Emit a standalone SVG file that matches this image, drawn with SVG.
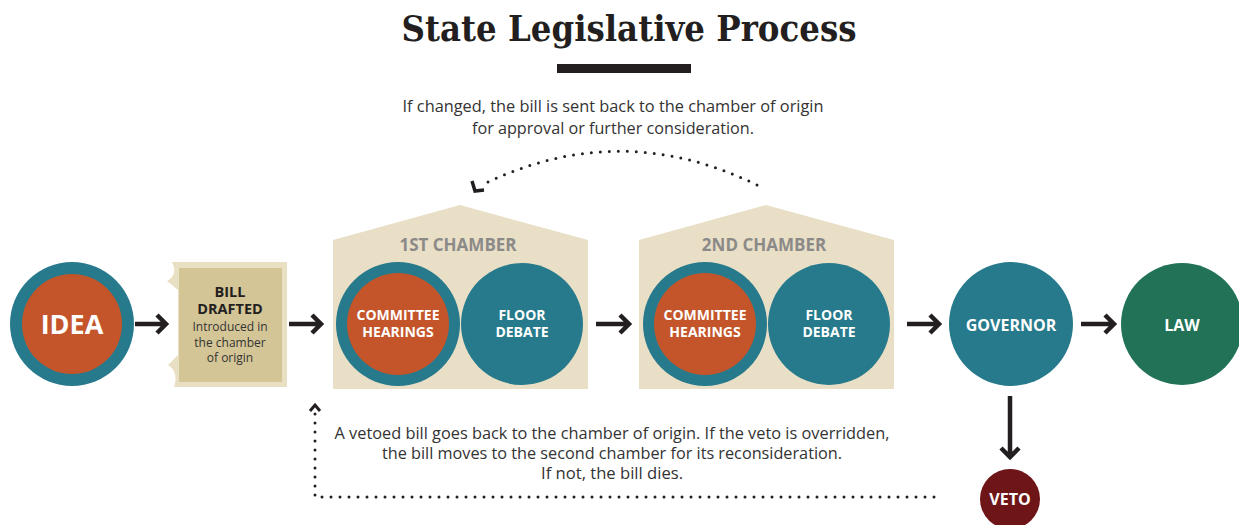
<svg xmlns="http://www.w3.org/2000/svg" width="1239" height="525" viewBox="0 0 1239 525">
<style>
.teal{fill:#267a8c}
.orange{fill:#c4552a}
.house{fill:#e8dfc6}
.wt{font-family:"Open Sans","Liberation Sans",sans-serif;font-weight:bold;fill:#ffffff;text-anchor:middle}
.note{font-family:"Open Sans","Liberation Sans",sans-serif;font-size:16px;fill:#333333;text-anchor:middle}
.ch{font-family:"Open Sans","Liberation Sans",sans-serif;font-weight:bold;font-size:17px;fill:#8c8a88;text-anchor:middle}
.bd{font-family:"Open Sans","Liberation Sans",sans-serif;font-weight:bold;font-size:14.5px;fill:#231f20;text-anchor:middle}
.bs{font-family:"Open Sans","Liberation Sans",sans-serif;font-size:12px;fill:#333333;text-anchor:middle}
.arr{fill:none;stroke:#231f20;stroke-width:4.5;stroke-linejoin:miter}
.dot{fill:none;stroke:#231f20;stroke-width:3;stroke-linecap:round;stroke-dasharray:0 9}
</style>
<rect width="1239" height="525" fill="#ffffff"/>
<g id="title">
<text x="629" y="41" font-family="'DejaVu Serif','Liberation Serif',serif" font-weight="bold" font-size="35" fill="#231f20" text-anchor="middle" textLength="455" lengthAdjust="spacingAndGlyphs">State Legislative Process</text>
<rect x="557" y="64" width="134" height="9" fill="#231f20"/>
</g>
<g id="note-top">
<text class="note" x="613" y="112" textLength="421" lengthAdjust="spacingAndGlyphs">If changed, the bill is sent back to the chamber of origin</text>
<text class="note" x="613" y="134" textLength="282" lengthAdjust="spacingAndGlyphs">for approval or further consideration.</text>
</g>
<g id="note-bottom">
<text class="note" x="612" y="439" textLength="555" lengthAdjust="spacingAndGlyphs">A vetoed bill goes back to the chamber of origin. If the veto is overridden,</text>
<text class="note" x="612" y="459" textLength="460" lengthAdjust="spacingAndGlyphs">the bill moves to the second chamber for its reconsideration.</text>
<text class="note" x="612" y="479" textLength="142" lengthAdjust="spacingAndGlyphs">If not, the bill dies.</text>
</g>
<g id="idea">
<circle class="teal" cx="72" cy="324" r="62"/>
<circle class="orange" cx="72" cy="324" r="50"/>
<text class="wt" x="72" y="334" font-size="27">IDEA</text>
</g>
<g id="bill-drafted">
<path d="M172,262 H287 V387 H174 C177,378 176,370 168,365 L178,355 V290 L167,281 C175,276 176,270 172,262 Z" fill="#e9dfc3"/>
<rect x="179" y="268" width="103" height="114" fill="#d4c596"/>
<text class="bd" x="230" y="297">BILL</text>
<text class="bd" x="230" y="314">DRAFTED</text>
<text class="bs" x="230" y="331">Introduced in</text>
<text class="bs" x="230" y="347">the chamber</text>
<text class="bs" x="230" y="362">of origin</text>
</g>
<g id="chamber1">
<path class="house" d="M333,240 L460,205 L588,240 V389 H333 Z"/>
<text class="ch" x="458" y="251">1ST CHAMBER</text>
<g id="committee1">
<circle class="teal" cx="398" cy="324" r="62"/>
<circle class="orange" cx="398" cy="324" r="51"/>
<text class="wt" x="398" y="320" font-size="14">COMMITTEE</text>
<text class="wt" x="398" y="337" font-size="14">HEARINGS</text>
</g>
<g id="floor1">
<circle class="teal" cx="522" cy="324" r="61"/>
<text class="wt" x="522" y="320" font-size="14">FLOOR</text>
<text class="wt" x="522" y="337" font-size="14">DEBATE</text>
</g>
</g>
<g id="chamber2">
<path class="house" d="M639,240 L766,205 L894,240 V389 H639 Z"/>
<text class="ch" x="764" y="251">2ND CHAMBER</text>
<g id="committee2">
<circle class="teal" cx="705" cy="324" r="62"/>
<circle class="orange" cx="705" cy="324" r="51"/>
<text class="wt" x="705" y="320" font-size="14">COMMITTEE</text>
<text class="wt" x="705" y="337" font-size="14">HEARINGS</text>
</g>
<g id="floor2">
<circle class="teal" cx="829" cy="324" r="61"/>
<text class="wt" x="829" y="320" font-size="14">FLOOR</text>
<text class="wt" x="829" y="337" font-size="14">DEBATE</text>
</g>
</g>
<g id="governor">
<circle class="teal" cx="1011" cy="324" r="62"/>
<text class="wt" x="1011" y="331" font-size="16">GOVERNOR</text>
</g>
<g id="law">
<circle cx="1182" cy="324" r="61" fill="#217257"/>
<text class="wt" x="1182" y="331" font-size="16">LAW</text>
</g>
<g id="veto">
<circle cx="1010" cy="499" r="30" fill="#6d1517"/>
<text class="wt" x="1010" y="505" font-size="16">VETO</text>
</g>
<g id="connectors">
<path class="arr" d="M135,324 H166 M157,315 L166,324 L157,333"/>
<path class="arr" d="M289,324 H321 M312,315 L321,324 L312,333"/>
<path class="arr" d="M596,324 H629 M620,315 L629,324 L620,333"/>
<path class="arr" d="M907,324 H939 M930,315 L939,324 L930,333"/>
<path class="arr" d="M1081,324 H1114 M1105,315 L1114,324 L1105,333"/>
<path class="arr" d="M1010,396 V457 M1001,448 L1010,457 L1019,448"/>
<path class="dot" d="M757,185 Q620,118 484,184"/>
<path d="M472,181 L475,191 L484,190" fill="none" stroke="#231f20" stroke-width="3.5"/>
<path class="dot" d="M315,414 V497 H942"/>
<path d="M310,411 L315,405 L320,411" fill="none" stroke="#231f20" stroke-width="3"/>
</g>
</svg>
